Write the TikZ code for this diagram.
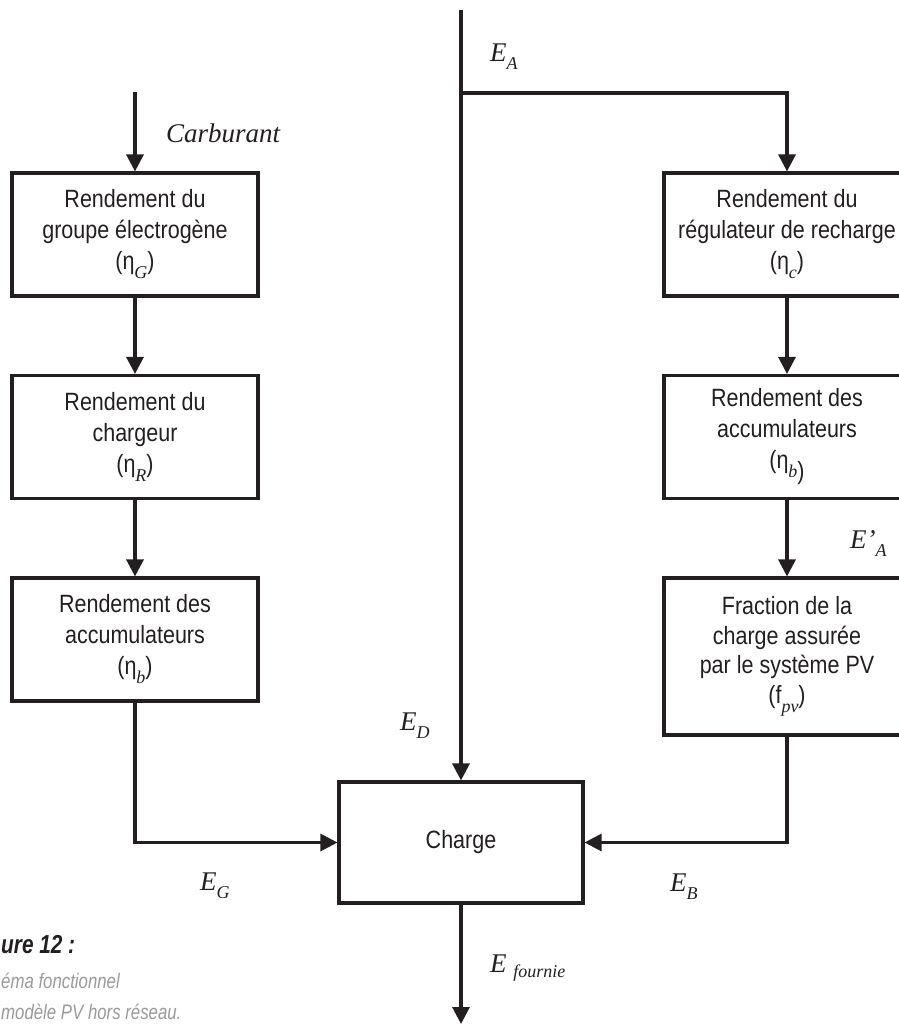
\documentclass[tikz,border=0pt]{standalone}
\usepackage{fontspec}
\usetikzlibrary{arrows.meta}
\newfontfamily\boxfont{Liberation Sans}[FakeStretch=0.86]
\newfontfamily\labfont{Liberation Serif}
\newfontfamily\capfont{Liberation Sans}[FakeStretch=0.8]
\definecolor{ink}{HTML}{231F20}
\definecolor{capgray}{HTML}{9A9A9A}
\newcommand\Sb[1]{\raisebox{-9pt}{\labfont\itshape\fontsize{18}{18}\selectfont #1}}
\newcommand\Lab[3][-8pt]{{\labfont\itshape\fontsize{27}{27}\selectfont #2\raisebox{#1}{\fontsize{18}{18}\selectfont #3}}}
\begin{document}
\begin{tikzpicture}[x=1pt,y=-1pt,
  box/.style={draw=ink,line width=3.1pt,minimum width=246pt,minimum height=123pt,
    align=center,text=ink,font=\boxfont\fontsize{25}{31}\selectfont,inner sep=0pt},
  conn/.style={draw=ink,line width=3.1pt},
  arr/.style={conn,-{Triangle[length=17pt,width=17pt]}},
  lab/.style={anchor=base west,inner sep=0pt,text=ink}]
\useasboundingbox (0,0) rectangle (898,1024);

% left column
\node[box] (g1) at (135,234.5) {Rendement du\\groupe électrogène\\(η\Sb{G})};
\node[box] (g2) at (135,437) {Rendement du\\chargeur\\(η\Sb{R})};
\node[box] (g3) at (135,639.5) {Rendement des\\accumulateurs\\(η\Sb{b})};

% right column
\node[box] (r1) at (787,234.5) {Rendement du\\régulateur de recharge\\(η\Sb{c})};
\node[box] (r2) at (787,437) {Rendement des\\accumulateurs\\(η\Sb{b}\raisebox{-11pt}{)}};
\node[box,minimum height=157pt,font=\boxfont\fontsize{25}{29.5}\selectfont] (r3) at (787,656.5)
  {Fraction de la\\charge assurée\\par le système PV\\(f\Sb{pv})};

% charge
\node[box,minimum width=244pt,minimum height=121pt] (charge) at (461,842.5) {Charge};

% connectors
\coordinate (carbtop) at (135,92);
\coordinate (top) at (461,10);
\coordinate (branch) at (461,93);
\coordinate (bot) at (461,1024);

\draw[arr] (carbtop) -- (g1.north);
\draw[arr] (g1.south) -- (g2.north);
\draw[arr] (g2.south) -- (g3.north);
\draw[arr] (g3.south) |- (charge.west);

\draw[arr] (top) -- (charge.north);
\draw[arr] (branch) -| (r1.north);
\draw[arr] (r1.south) -- (r2.north);
\draw[arr] (r2.south) -- (r3.north);
\draw[arr] (r3.south) |- (charge.east);

\draw[arr] (charge.south) -- (bot);

% labels
\node[lab] (lcarb) at (166,143) {\labfont\itshape\fontsize{27}{27}\selectfont Carburant};
\node[lab] (lea) at (490,62) {\Lab{E}{A}};
\node[lab] (leap) at (850,548) {\Lab{E’}{A}};
\node[lab] (led) at (400,730) {\Lab{E}{D}};
\node[lab] (leg) at (200,890) {\Lab{E}{G}};
\node[lab] (leb) at (670,891) {\Lab{E}{B}};
\node[lab] (lef) at (490,972) {\Lab[-5pt]{E }{fournie}};

% caption (as visible at the left edge)
\node[lab,font=\capfont\bfseries\itshape\fontsize{26}{26}\selectfont] (fig) at (1,953) {ure 12 :};
\node[lab,text=capgray,font=\capfont\itshape\fontsize{21}{21}\selectfont] (cap1) at (1,988) {éma fonctionnel};
\node[lab,text=capgray,font=\capfont\itshape\fontsize{21}{21}\selectfont] (cap2) at (1,1019) {modèle PV hors réseau.};
\end{tikzpicture}
\end{document}
